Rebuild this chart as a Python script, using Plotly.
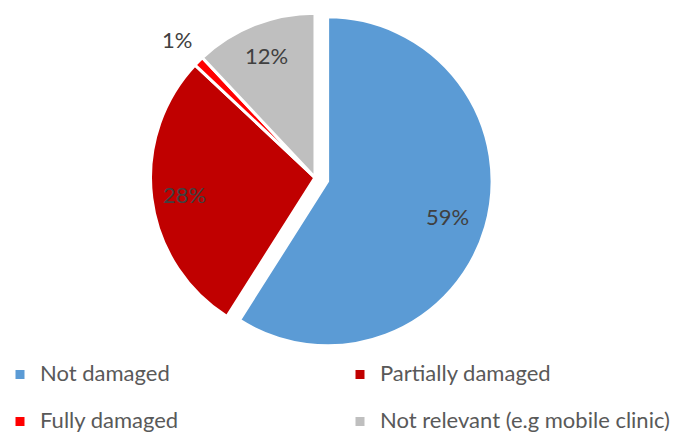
import math
import plotly.graph_objects as go

# Facility damage status
labels = ["Not damaged", "Partially damaged", "Fully damaged", "Not relevant (e.g mobile clinic)"]
values = [59, 28, 1, 12]
colors = ["#5B9BD5", "#C00000", "#FF0000", "#BFBFBF"]
pulls = [0.08, 0, 0, 0]
label_radius = [0.76, 0.8, 1.19, 0.8]  # percent label distance, as a fraction of the radius

W, H = 684, 438
dom_x = [0.200, 0.721]
dom_y = [0.189, 1.0]

# Legend entries: a second, blank line gives each legend row its height
legend_labels = [f"<span style='font-size:22px'>{t}</span><br>&nbsp;" for t in labels]

fig = go.Figure(
    go.Pie(
        labels=legend_labels,
        values=values,
        sort=False,
        direction="clockwise",
        rotation=0,
        pull=pulls,
        marker=dict(colors=colors, line=dict(color="white", width=3)),
        textinfo="none",
        domain=dict(x=dom_x, y=dom_y),
        hoverinfo="percent",
    )
)

# Pie geometry in pixels (same rule plotly uses: radius shrinks by the largest pull)
dw = (dom_x[1] - dom_x[0]) * W
dh = (dom_y[1] - dom_y[0]) * H
r = min(dw, dh) / 2 / (1 + max(pulls))
cx = (dom_x[0] + dom_x[1]) / 2 * W
cy = (1 - (dom_y[0] + dom_y[1]) / 2) * H

total = sum(values)
cum = 0
for v, p, k in zip(values, pulls, label_radius):
    mid = (cum + v / 2) / total * 2 * math.pi
    cum += v
    dx, dy = math.sin(mid), -math.cos(mid)
    px = cx + (p + k) * r * dx
    py = cy + (p + k) * r * dy
    fig.add_annotation(
        x=px / W, y=1 - py / H, xref="paper", yref="paper",
        text=f"{v}%", showarrow=False,
        font=dict(family="Lato", size=22, color="#404040"),
        xanchor="center", yanchor="middle",
    )

fig.update_layout(
    width=W,
    height=H,
    margin=dict(l=0, r=0, t=0, b=0, autoexpand=False),
    paper_bgcolor="white",
    plot_bgcolor="white",
    showlegend=True,
    legend=dict(
        orientation="h",
        x=0.0,
        xanchor="left",
        y=0.185,
        yanchor="top",
        entrywidth=295,
        entrywidthmode="pixels",
        valign="top",
        font=dict(family="Lato", size=16.9, color="#595959"),
        traceorder="normal",
    ),
)

fig.write_html("out.html")
